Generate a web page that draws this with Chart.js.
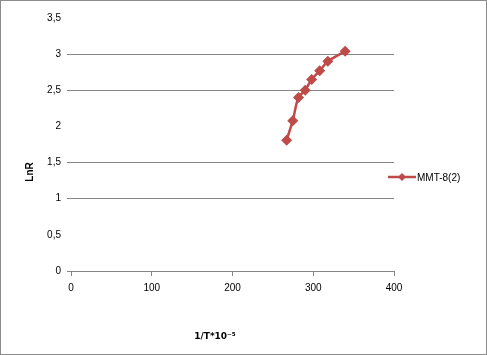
<!DOCTYPE html>
<html>
<head>
<meta charset="utf-8">
<script src="https://cdn.jsdelivr.net/npm/chart.js@4/dist/chart.umd.min.js"></script>
<style>
html,body{margin:0;padding:0;background:#fff;}
#wrap{width:487px;height:355px;position:relative;}
</style>
</head>
<body>
<div id="wrap"><canvas id="c" width="487" height="355"></canvas></div>
<script>
const seriesName = 'MMT-8(2)';
const xValues = [267, 274.6, 281.7, 290, 298, 308, 318, 339.5];
const yValues = [1.81, 2.08, 2.40, 2.50, 2.65, 2.77, 2.90, 3.04];
const yTickLabels = ['0', '0,5', '1', '1,5', '2', '2,5', '3', '3,5'];
const xTickLabels = ['0', '100', '200', '300', '400'];
const xTitle = '1/T*10\u207B\u2075';
const yTitle = 'LnR';

const red = '#BE4B48';
const gridGray = '#868686';
const hiddenGrid = [0.5, 2, 3.5];

const points = xValues.map((x, i) => ({x: x, y: yValues[i]}));

const decor = {
  id: 'decor',
  afterDraw(chart) {
    const ctx = chart.ctx;
    ctx.save();
    // outer border
    ctx.strokeStyle = '#8c8c8c';
    ctx.lineWidth = 1;
    ctx.strokeRect(0.5, 0.5, chart.width - 1, chart.height - 1);
    // axis titles
    ctx.fillStyle = '#000';
    ctx.font = 'bold 9px "DejaVu Sans", sans-serif';
    ctx.textAlign = 'center';
    ctx.textBaseline = 'middle';
    ctx.fillText(xTitle, 215, 337);
    ctx.font = 'bold 10px "Liberation Sans", Arial, sans-serif';
    ctx.save();
    ctx.translate(30, 172);
    ctx.rotate(-Math.PI / 2);
    ctx.fillText(yTitle, 0, 0);
    ctx.restore();
    // legend
    const ly = 177;
    ctx.strokeStyle = red;
    ctx.lineWidth = 2.5;
    ctx.beginPath();
    ctx.moveTo(388, ly);
    ctx.lineTo(416, ly);
    ctx.stroke();
    ctx.fillStyle = red;
    ctx.beginPath();
    ctx.moveTo(402, ly - 4);
    ctx.lineTo(406, ly);
    ctx.lineTo(402, ly + 4);
    ctx.lineTo(398, ly);
    ctx.closePath();
    ctx.fill();
    ctx.fillStyle = '#000';
    ctx.font = '10px "Liberation Sans", Arial, sans-serif';
    ctx.textAlign = 'left';
    ctx.fillText(seriesName, 417, ly + 1);
    ctx.restore();
  }
};

new Chart(document.getElementById('c'), {
  type: 'scatter',
  data: {
    datasets: [{
      label: seriesName,
      data: points,
      showLine: true,
      borderColor: red,
      backgroundColor: red,
      borderWidth: 2.5,
      tension: 0.35,
      pointStyle: 'rectRot',
      pointRadius: 5.5,
      pointHoverRadius: 5.5,
      pointBorderWidth: 0
    }]
  },
  options: {
    responsive: false,
    animation: false,
    events: [],
    layout: {padding: {left: 0, right: 93, top: 18, bottom: 0}},
    plugins: {legend: {display: false}, tooltip: {enabled: false}},
    scales: {
      x: {
        type: 'linear',
        min: 0, max: 400,
        afterFit(s) { s.height = 84; },
        ticks: {
          stepSize: 100,
          color: '#000',
          font: {family: '"Liberation Sans", Arial, sans-serif', size: 10},
          padding: 6,
          maxRotation: 0,
          callback: (v, i) => xTickLabels[i]
        },
        grid: {drawOnChartArea: false, color: gridGray, tickLength: 5, lineWidth: 1},
        border: {display: true, color: gridGray, width: 1}
      },
      y: {
        type: 'linear',
        min: 0, max: 3.5,
        afterFit(s) { s.width = 71; },
        ticks: {
          stepSize: 0.5,
          color: '#000',
          font: {family: '"Liberation Sans", Arial, sans-serif', size: 10},
          padding: 6,
          callback: (v, i) => yTickLabels[i]
        },
        grid: {
          color: (c) => hiddenGrid.includes(c.tick && c.tick.value) ? 'rgba(0,0,0,0)' : gridGray,
          tickLength: 4,
          lineWidth: 1
        },
        border: {display: false}
      }
    }
  },
  plugins: [decor]
});
</script>
</body>
</html>
